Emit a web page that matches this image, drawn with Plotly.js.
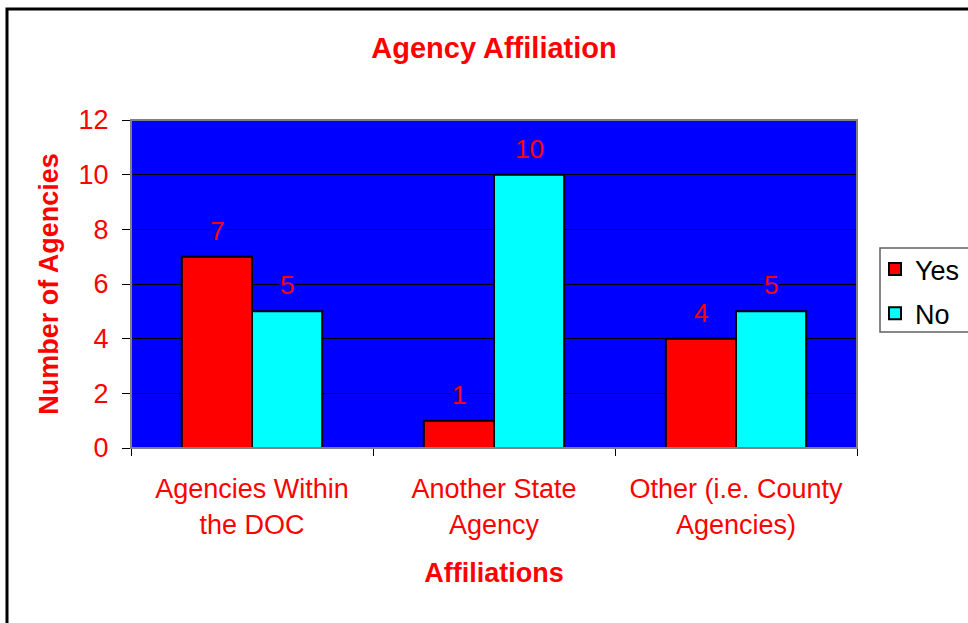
<!DOCTYPE html>
<html>
<head>
<meta charset="utf-8">
<script src="https://cdn.plot.ly/plotly-3.0.1.min.js"></script>
<style>html,body{margin:0;padding:0;background:#fff;}#chart{width:968px;height:623px;}</style>
</head>
<body>
<div id="chart"></div>
<script>
var categories = ["Agencies Within<br>the DOC", "Another State<br>Agency", "Other (i.e. County<br>Agencies)"];
var seriesNames = ["Yes", "No"];
var yesValues = [7, 1, 4];
var noValues = [5, 10, 5];
var yTicks = [0, 2, 4, 6, 8, 10, 12];

var FONT = "Liberation Sans, Arial, sans-serif";
var RED = "#FF0000";

var traces = [
  {type: "bar", name: seriesNames[0], x: categories, y: yesValues, legendgroup: "g1",
   marker: {color: "#FF0000", line: {color: "#000000", width: 2}}, hoverinfo: "none"},
  {type: "bar", name: seriesNames[1], x: categories, y: noValues, legendgroup: "g2",
   marker: {color: "#00FFFF", line: {color: "#000000", width: 2}}, hoverinfo: "none"}
];

var annotations = [];
var shifts = [-35, 35];
[yesValues, noValues].forEach(function (vals, si) {
  vals.forEach(function (v, i) {
    annotations.push({
      x: categories[i], y: v, xref: "x", yref: "y",
      text: String(v), showarrow: false, xshift: shifts[si], yshift: 10,
      yanchor: "bottom", bgcolor: "#0000FF", borderpad: 0,
      font: {family: FONT, size: 26, color: RED}
    });
  });
});

var layout = {
  width: 968, height: 623,
  margin: {l: 131, r: 111, t: 120, b: 175, autoexpand: false},
  paper_bgcolor: "#FFFFFF",
  plot_bgcolor: "#0000FF",
  barmode: "group",
  bargap: 0.42,
  bargroupgap: 0,
  showlegend: true,
  title: {text: "<b>Agency Affiliation</b>", x: 0.5, xref: "paper", y: 1 - 48 / 623, yref: "container",
          yanchor: "middle", font: {family: FONT, size: 29, color: RED}},
  xaxis: {
    type: "category",
    tickson: "boundaries",
    ticks: "outside", ticklen: 7, tickcolor: "#000", tickwidth: 1,
    ticklabelstandoff: 17,
    showline: true, linecolor: "#404040", linewidth: 1,
    showgrid: false, zeroline: false,
    tickfont: {family: FONT, size: 27, color: RED},
    title: {text: "<b>Affiliations</b>", standoff: 24, font: {family: FONT, size: 27, color: RED}},
    automargin: false
  },
  yaxis: {
    range: [0, 12], tickvals: yTicks, ticktext: yTicks.map(String),
    ticks: "outside", ticklen: 8, tickcolor: "#000", tickwidth: 1,
    ticklabelstandoff: 8,
    showline: true, linecolor: "#404040", linewidth: 1,
    showgrid: true, gridcolor: "#000000", gridwidth: 1,
    zeroline: false,
    tickfont: {family: FONT, size: 27, color: RED},
    title: {text: "<b>Number of Agencies</b>", standoff: 12, font: {family: FONT, size: 27, color: RED}},
    automargin: false
  },
  legend: {
    x: (875 - 131) / 726, xanchor: "left", xref: "paper",
    y: (448 - 245) / 328, yanchor: "top", yref: "paper",
    bgcolor: "rgba(0,0,0,0)", borderwidth: 0,
    font: {family: FONT, size: 27, color: "#000"},
    tracegroupgap: 6
  },
  shapes: [
    {type: "rect", xref: "paper", yref: "paper", x0: 0, x1: 1, y0: 0, y1: 1,
     line: {color: "#808080", width: 2}, fillcolor: "rgba(0,0,0,0)", layer: "above"},
    {type: "rect", xref: "paper", yref: "paper", x0: (7 - 131) / 726, x1: 1.3, y0: -0.7, y1: (448 - 9) / 328,
     line: {color: "#000000", width: 3}, fillcolor: "rgba(0,0,0,0)"},
    {type: "rect", xref: "paper", yref: "paper", x0: (880 - 131) / 726, x1: 1.3, y0: (448 - 332) / 328, y1: (448 - 248) / 328,
     line: {color: "#606060", width: 1.5}, fillcolor: "rgba(0,0,0,0)"}
  ],
  annotations: annotations
};

Plotly.newPlot("chart", traces, layout, {displayModeBar: false, staticPlot: true});
</script>
</body>
</html>
